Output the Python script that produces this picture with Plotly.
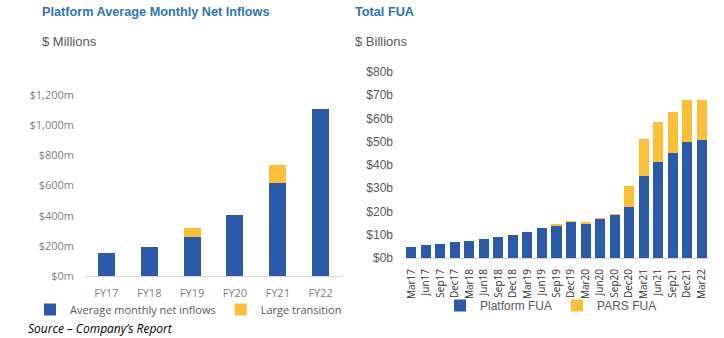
import plotly.graph_objects as go

# Left chart data ($ millions)
fy_labels = ["FY17", "FY18", "FY19", "FY20", "FY21", "FY22"]
avg_monthly_inflows = [150, 195, 256, 402, 619, 1105]
large_transition = [0, 0, 62, 0, 117, 0]
left_ticks = [0, 200, 400, 600, 800, 1000, 1200]
left_tick_text = ["$0m", "$200m", "$400m", "$600m", "$800m", "$1,000m", "$1,200m"]

# Right chart data ($ billions)
quarters = ["Mar17", "Jun17", "Sep17", "Dec17", "Mar18", "Jun18", "Sep18", "Dec18",
            "Mar19", "Jun19", "Sep19", "Dec19", "Mar20", "Jun20", "Sep20", "Dec20",
            "Mar21", "Jun21", "Sep21", "Dec21", "Mar22"]
platform_fua = [4.6, 5.4, 6.0, 6.9, 7.3, 8.2, 9.2, 10.0, 11.3, 12.8, 14.0, 15.5,
                14.8, 16.8, 18.5, 21.8, 35.4, 41.2, 45.0, 49.8, 50.8]
pars_fua = [0, 0, 0, 0, 0, 0, 0, 0, 0, 0, 0.3, 0.3, 0.3, 0.3, 0.3, 9.2, 15.6,
            17.2, 17.8, 18.2, 17.2]
right_ticks = [0, 10, 20, 30, 40, 50, 60, 70, 80]
right_tick_text = ["$0b", "$10b", "$20b", "$30b", "$40b", "$50b", "$60b", "$70b", "$80b"]

BLUE = "#2B5BA8"
ORANGE = "#FFBE3A"
TITLE_BLUE = "#2E74B5"

fig = go.Figure()

fig.add_trace(go.Bar(x=fy_labels, y=avg_monthly_inflows, name="Average monthly net inflows",
                     marker=dict(color=BLUE, line=dict(width=0)), xaxis="x", yaxis="y",
                     legend="legend"))
fig.add_trace(go.Bar(x=fy_labels, y=large_transition, name="Large transition",
                     marker=dict(color=ORANGE, line=dict(width=0)), xaxis="x", yaxis="y",
                     legend="legend"))
fig.add_trace(go.Bar(x=quarters, y=platform_fua, name="Platform FUA", width=0.69,
                     marker=dict(color=BLUE, line=dict(width=0)), xaxis="x2", yaxis="y2",
                     legend="legend2"))
fig.add_trace(go.Bar(x=quarters, y=pars_fua, name="PARS FUA", width=0.69,
                     marker=dict(color=ORANGE, line=dict(width=0)), xaxis="x2", yaxis="y2",
                     legend="legend2"))

W, H = 724, 338

def fx(px):
    return px / W

def fy(py):
    return (H - py) / H

fig.update_layout(
    width=W, height=H,
    margin=dict(l=0, r=0, t=0, b=0, autoexpand=False),
    paper_bgcolor="white", plot_bgcolor="white",
    barmode="stack",
    bargap=0.6,
    showlegend=True,
    xaxis=dict(domain=[fx(85), fx(342)], showgrid=False, showline=True, linecolor="#D9D9D9",
               linewidth=1, ticks="", tickfont=dict(family="Open Sans", size=11, color="#7F7F7F"),
               ticklabelstandoff=7, anchor="y", automargin=False),
    yaxis=dict(domain=[fy(276), fy(95)], range=[0, 1200], tickmode="array",
               tickvals=left_ticks, ticktext=left_tick_text,
               showgrid=False, zeroline=False, showline=False,
               tickfont=dict(family="Open Sans", size=11, color="#7F7F7F"),
               ticklabelstandoff=10, anchor="x", automargin=False),
    xaxis2=dict(domain=[fx(404), fx(709)], showgrid=False, showline=True, linecolor="#D9D9D9",
                linewidth=1, ticks="", tickangle=-90, ticklabelstandoff=6,
                tickfont=dict(family="Open Sans", size=10, color="#333333"), anchor="y2",
                automargin=False),
    yaxis2=dict(domain=[fy(258), fy(72)], range=[0, 80], tickmode="array",
                tickvals=right_ticks, ticktext=right_tick_text,
                showgrid=False, zeroline=False, showline=False,
                tickfont=dict(family="Liberation Sans", size=12, color="#595959"),
                ticklabelstandoff=10, anchor="x2", automargin=False),
    legend=dict(orientation="h", x=fx(30), y=fy(295), xanchor="left", yanchor="top",
                font=dict(family="Open Sans", size=11, color="#595959"),
                itemwidth=30, traceorder="normal", bgcolor="rgba(0,0,0,0)"),
    legend2=dict(orientation="h", x=fx(440), y=fy(291), xanchor="left", yanchor="top",
                 font=dict(family="Liberation Sans", size=12, color="#595959"),
                 itemwidth=30, traceorder="normal", bgcolor="rgba(0,0,0,0)"),
)

annotations = [
    dict(text="<b>Platform Average Monthly Net Inflows</b>", x=fx(40), y=fy(12),
         font=dict(family="Liberation Sans", size=12.7, color=TITLE_BLUE)),
    dict(text="$ Millions", x=fx(40), y=fy(42),
         font=dict(family="Liberation Sans", size=13, color="#595959")),
    dict(text="<b>Total FUA</b>", x=fx(353), y=fy(12),
         font=dict(family="Liberation Sans", size=12.7, color=TITLE_BLUE)),
    dict(text="$ Billions", x=fx(353), y=fy(42),
         font=dict(family="Liberation Sans", size=13, color="#595959")),
    dict(text="<i>Source – Company’s Report</i>", x=fx(26), y=fy(328),
         font=dict(family="Open Sans", size=12, color="#000000")),
]
for a in annotations:
    a.update(xref="paper", yref="paper", xanchor="left", yanchor="middle", showarrow=False)
fig.update_layout(annotations=annotations)

fig.write_html("out.html")
